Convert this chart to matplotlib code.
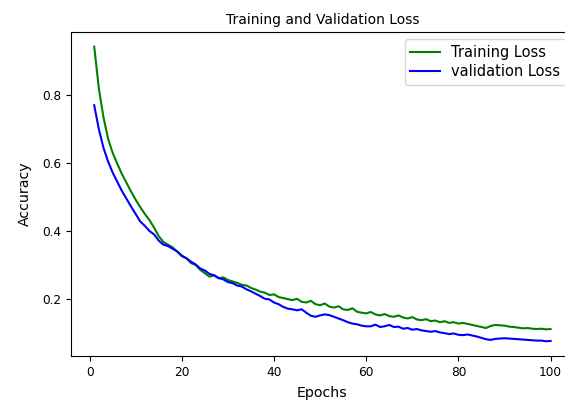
import matplotlib
matplotlib.use("Agg")
import matplotlib.pyplot as plt

epochs = list(range(1, 101))

train_loss = [
    0.942, 0.820, 0.735, 0.672, 0.630, 0.598, 0.568, 0.542, 0.516, 0.492,
    0.470, 0.450, 0.432, 0.410, 0.385, 0.368, 0.360, 0.352, 0.340, 0.326,
    0.320, 0.306, 0.300, 0.286, 0.276, 0.266, 0.270, 0.261, 0.264, 0.256,
    0.252, 0.248, 0.242, 0.240, 0.233, 0.228, 0.222, 0.219, 0.212, 0.214,
    0.206, 0.203, 0.200, 0.197, 0.201, 0.192, 0.190, 0.195, 0.185, 0.182,
    0.187, 0.178, 0.175, 0.179, 0.170, 0.168, 0.173, 0.163, 0.160, 0.158,
    0.162, 0.155, 0.152, 0.156, 0.150, 0.148, 0.152, 0.146, 0.143, 0.147,
    0.140, 0.138, 0.141, 0.135, 0.137, 0.132, 0.135, 0.130, 0.132, 0.128,
    0.130, 0.127, 0.124, 0.121, 0.118, 0.115, 0.121, 0.124, 0.123, 0.122,
    0.119, 0.118, 0.116, 0.114, 0.115, 0.113, 0.112, 0.113, 0.111, 0.112,
]

val_loss = [
    0.770, 0.700, 0.645, 0.605, 0.572, 0.545, 0.518, 0.495, 0.472, 0.450,
    0.428, 0.415, 0.400, 0.390, 0.372, 0.360, 0.356, 0.348, 0.340, 0.328,
    0.320, 0.310, 0.302, 0.290, 0.284, 0.274, 0.270, 0.262, 0.258, 0.250,
    0.247, 0.240, 0.237, 0.229, 0.223, 0.216, 0.209, 0.201, 0.199, 0.190,
    0.185, 0.177, 0.172, 0.170, 0.167, 0.170, 0.160, 0.151, 0.148, 0.152,
    0.155, 0.153, 0.148, 0.143, 0.138, 0.132, 0.128, 0.126, 0.122, 0.120,
    0.120, 0.125, 0.118, 0.120, 0.124, 0.118, 0.119, 0.113, 0.115, 0.110,
    0.112, 0.108, 0.106, 0.104, 0.106, 0.102, 0.100, 0.097, 0.099, 0.095,
    0.094, 0.096, 0.093, 0.090, 0.086, 0.082, 0.080, 0.083, 0.084, 0.085,
    0.084, 0.083, 0.082, 0.081, 0.080, 0.079, 0.078, 0.078, 0.076, 0.077,
]

fig = plt.figure(figsize=(5.65, 4.05), dpi=100)
ax = fig.add_axes([71.4 / 565, 49 / 405, 502 / 565, 324 / 405])
ax.plot(epochs, train_loss, color="green", lw=1.5, label="Training Loss")
ax.plot(epochs, val_loss, color="blue", lw=1.5, label="validation Loss")
ax.set_title("Training and Validation Loss", fontsize=10)
ax.set_xlabel("Epochs", fontsize=10.2, labelpad=5)
ax.set_ylabel("Accuracy", fontsize=10.2, labelpad=8)
ax.tick_params(labelsize=8.7)
ax.legend(loc="upper right", fontsize=10.5, labelspacing=0.3)
fig.savefig("out.png", dpi=100)
